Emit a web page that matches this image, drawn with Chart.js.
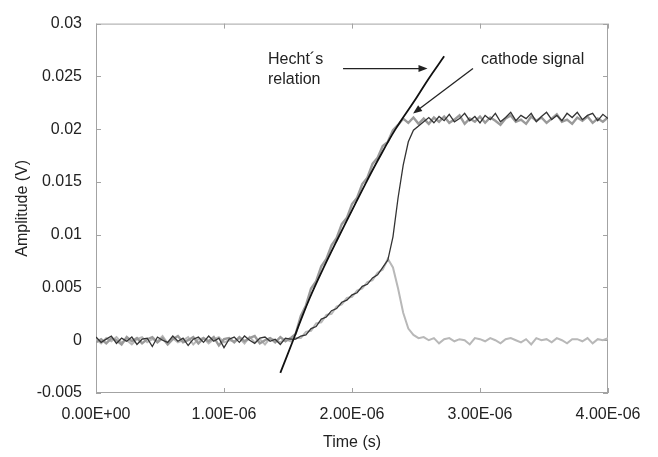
<!DOCTYPE html>
<html lang="en">
<head>
    <meta charset="UTF-8">
    <title>Hecht relation vs signals</title>
    <script src="https://cdn.jsdelivr.net/npm/chart.js"></script>
    <style>
        body {
            margin: 0;
            padding: 0;
            background: #ffffff;
        }
        #chart {
            display: block;
        }
    </style>
</head>
<body>
    <canvas id="chart" width="658" height="457"></canvas>

    <script>
        // sample times (s), shared by the three measured traces
        const time = [
            0.00e-6, 0.04e-6, 0.08e-6, 0.12e-6, 0.16e-6, 0.20e-6, 0.24e-6, 0.28e-6, 0.32e-6, 0.36e-6,
            0.40e-6, 0.44e-6, 0.48e-6, 0.52e-6, 0.56e-6, 0.60e-6, 0.64e-6, 0.68e-6, 0.72e-6, 0.76e-6,
            0.80e-6, 0.84e-6, 0.88e-6, 0.92e-6, 0.96e-6, 1.00e-6, 1.04e-6, 1.08e-6, 1.12e-6, 1.16e-6,
            1.20e-6, 1.24e-6, 1.28e-6, 1.32e-6, 1.36e-6, 1.40e-6, 1.44e-6, 1.48e-6, 1.52e-6, 1.56e-6,
            1.60e-6, 1.64e-6, 1.68e-6, 1.72e-6, 1.76e-6, 1.80e-6, 1.84e-6, 1.88e-6, 1.92e-6, 1.96e-6,
            2.00e-6, 2.04e-6, 2.08e-6, 2.12e-6, 2.16e-6, 2.20e-6, 2.24e-6, 2.28e-6, 2.32e-6, 2.36e-6,
            2.40e-6, 2.44e-6, 2.48e-6, 2.52e-6, 2.56e-6, 2.60e-6, 2.64e-6, 2.68e-6, 2.72e-6, 2.76e-6,
            2.80e-6, 2.84e-6, 2.88e-6, 2.92e-6, 2.96e-6, 3.00e-6, 3.04e-6, 3.08e-6, 3.12e-6, 3.16e-6,
            3.20e-6, 3.24e-6, 3.28e-6, 3.32e-6, 3.36e-6, 3.40e-6, 3.44e-6, 3.48e-6, 3.52e-6, 3.56e-6,
            3.60e-6, 3.64e-6, 3.68e-6, 3.72e-6, 3.76e-6, 3.80e-6, 3.84e-6, 3.88e-6, 3.92e-6, 3.96e-6,
            4.00e-6
        ];

        // trace following Hecht's relation (mid grey)
        const hechtTrace = [
            -0.0002, 0.0001, -0.0003, 0.0002, 0.0000, -0.0004, 0.0003, -0.0001, 0.0002, -0.0003,
            0.0001, 0.0003, -0.0002, 0.0002, -0.0004, 0.0001, 0.0004, -0.0002, 0.0000, 0.0003,
            -0.0003, 0.0002, -0.0001, 0.0003, -0.0005, 0.0001, 0.0002, -0.0002, 0.0003, -0.0001,
            0.0002, 0.0004, -0.0003, 0.0000, 0.0002, -0.0002, 0.0003, -0.0001, 0.0002, 0.0006,
            0.0023, 0.0033, 0.0049, 0.0056, 0.0070, 0.0077, 0.0090, 0.0097, 0.0110, 0.0116,
            0.0129, 0.0135, 0.0148, 0.0154, 0.0167, 0.0173, 0.0184, 0.0188, 0.0199, 0.0204,
            0.0210, 0.0206, 0.0211, 0.0205, 0.0210, 0.0205, 0.0211, 0.0207, 0.0212, 0.0206,
            0.0209, 0.0213, 0.0205, 0.0210, 0.0207, 0.0212, 0.0206, 0.0211, 0.0208, 0.0204,
            0.0210, 0.0213, 0.0207, 0.0209, 0.0205, 0.0212, 0.0208, 0.0211, 0.0206, 0.0210,
            0.0214, 0.0207, 0.0209, 0.0205, 0.0211, 0.0208, 0.0212, 0.0206, 0.0210, 0.0207,
            0.0211
        ];

        // slow ramp then steep rise (dark grey)
        const anodeTrace = [
            0.0003, -0.0002, 0.0001, 0.0004, -0.0003, 0.0002, -0.0001, 0.0003, -0.0004, 0.0001,
            0.0002, -0.0006, 0.0003, 0.0000, -0.0002, 0.0004, -0.0001, 0.0002, -0.0005, 0.0001,
            0.0003, -0.0002, 0.0004, -0.0001, 0.0002, -0.0007, 0.0001, 0.0003, -0.0002, 0.0004,
            0.0000, -0.0003, 0.0002, 0.0003, -0.0001, 0.0001, -0.0004, 0.0002, 0.0001, 0.0001,
            0.0004, 0.0005, 0.0011, 0.0013, 0.0020, 0.0022, 0.0028, 0.0030, 0.0036, 0.0038,
            0.0043, 0.0045, 0.0051, 0.0053, 0.0059, 0.0062, 0.0069, 0.0076, 0.0098, 0.0135,
            0.0166, 0.0188, 0.0199, 0.0203, 0.0207, 0.0211, 0.0206, 0.0212, 0.0208, 0.0214,
            0.0207, 0.0210, 0.0215, 0.0208, 0.0212, 0.0206, 0.0213, 0.0209, 0.0215, 0.0207,
            0.0211, 0.0216, 0.0208, 0.0213, 0.0210, 0.0215, 0.0207, 0.0212, 0.0216, 0.0209,
            0.0213, 0.0208, 0.0215, 0.0211, 0.0216, 0.0209, 0.0213, 0.0215, 0.0208, 0.0214,
            0.0210
        ];

        // slow ramp then drop back to zero (light grey)
        const dropTrace = [
            0.0001, -0.0003, 0.0002, -0.0001, 0.0003, -0.0002, 0.0000, -0.0004, 0.0001, 0.0003,
            -0.0002, 0.0001, -0.0001, 0.0004, -0.0003, 0.0002, -0.0002, 0.0000, 0.0003, -0.0004,
            0.0001, 0.0002, -0.0003, 0.0001, 0.0003, -0.0002, 0.0000, -0.0001, 0.0002, -0.0003,
            0.0003, -0.0002, 0.0001, -0.0004, 0.0002, 0.0000, -0.0002, 0.0001, -0.0001, 0.0002,
            0.0002, 0.0008, 0.0009, 0.0016, 0.0017, 0.0024, 0.0025, 0.0032, 0.0034, 0.0040,
            0.0041, 0.0047, 0.0049, 0.0055, 0.0057, 0.0064, 0.0067, 0.0077, 0.0069, 0.0049,
            0.0026, 0.0011, 0.0005, 0.0002, 0.0003, 0.0000, 0.0002, -0.0003, 0.0001, 0.0002,
            -0.0001, 0.0001, 0.0000, -0.0004, 0.0002, 0.0001, -0.0001, 0.0002, 0.0000, -0.0003,
            0.0001, 0.0002, 0.0000, -0.0002, 0.0001, -0.0004, 0.0002, 0.0000, 0.0001, -0.0002,
            0.0002, 0.0000, -0.0003, 0.0001, 0.0001, -0.0001, 0.0002, -0.0003, 0.0001, 0.0000,
            0.0002
        ];

        // Hecht's relation, smooth black curve
        const hechtTime = [1.44e-6, 1.54e-6, 1.60e-6, 1.67e-6, 1.76e-6, 1.88e-6, 2.00e-6, 2.10e-6, 2.20e-6, 2.34e-6, 2.50e-6, 2.60e-6, 2.72e-6];
        const hechtAmp  = [-0.0031, 0.0000, 0.0019, 0.0040, 0.0064, 0.0094, 0.0123, 0.0147, 0.0170, 0.0200, 0.0229, 0.0248, 0.0269];

        const xTickValues = [0, 1e-6, 2e-6, 3e-6, 4e-6];
        const xTickLabels = ['0.00E+00', '1.00E-06', '2.00E-06', '3.00E-06', '4.00E-06'];
        const yTickValues = [-0.005, 0, 0.005, 0.01, 0.015, 0.02, 0.025, 0.03];
        const yTickLabels = ['-0.005', '0', '0.005', '0.01', '0.015', '0.02', '0.025', '0.03'];

        const FONT = '"Liberation Sans", Arial, sans-serif';
        const INK = '#222222';

        function toPoints(ts, vs) {
            return ts.map((t, i) => ({ x: t, y: vs[i] }));
        }

        function arrow(ctx, x1, y1, x2, y2) {
            const ang = Math.atan2(y2 - y1, x2 - x1);
            const len = 9, half = 3.5;
            ctx.beginPath();
            ctx.moveTo(x1, y1);
            ctx.lineTo(x2 - Math.cos(ang) * len * 0.8, y2 - Math.sin(ang) * len * 0.8);
            ctx.stroke();
            ctx.beginPath();
            ctx.moveTo(x2, y2);
            ctx.lineTo(x2 - Math.cos(ang) * len - Math.sin(ang) * half, y2 - Math.sin(ang) * len + Math.cos(ang) * half);
            ctx.lineTo(x2 - Math.cos(ang) * len + Math.sin(ang) * half, y2 - Math.sin(ang) * len - Math.cos(ang) * half);
            ctx.closePath();
            ctx.fill();
        }

        // box around plot area with small inward tick marks on all four sides
        const framePlugin = {
            id: 'frame',
            beforeDatasetsDraw(chart) {
                const { ctx, chartArea: a, scales: { x, y } } = chart;
                ctx.save();
                ctx.strokeStyle = '#a3a3a3';
                ctx.lineWidth = 1;
                ctx.strokeRect(a.left + 0.5, a.top + 0.5, a.right - a.left - 1, a.bottom - a.top - 1);
                ctx.beginPath();
                xTickValues.forEach(v => {
                    const px = Math.round(x.getPixelForValue(v)) + 0.5;
                    ctx.moveTo(px, a.bottom); ctx.lineTo(px, a.bottom - 5);
                    ctx.moveTo(px, a.top); ctx.lineTo(px, a.top + 5);
                });
                yTickValues.forEach(v => {
                    const py = Math.round(y.getPixelForValue(v)) + 0.5;
                    ctx.moveTo(a.left, py); ctx.lineTo(a.left + 5, py);
                    ctx.moveTo(a.right, py); ctx.lineTo(a.right - 5, py);
                });
                ctx.stroke();
                ctx.restore();
            },
            afterDraw(chart) {
                const { ctx, scales: { x, y } } = chart;
                ctx.save();
                ctx.fillStyle = INK;
                ctx.strokeStyle = INK;
                ctx.lineWidth = 1.3;
                ctx.font = '16px ' + FONT;
                ctx.textBaseline = 'middle';
                ctx.textAlign = 'left';
                ctx.fillText('Hecht´s', x.getPixelForValue(1.344e-6), y.getPixelForValue(0.02657));
                ctx.fillText('relation', x.getPixelForValue(1.344e-6), y.getPixelForValue(0.02472));
                ctx.fillText('cathode signal', x.getPixelForValue(3.008e-6), y.getPixelForValue(0.02657));
                arrow(ctx, x.getPixelForValue(1.93e-6), y.getPixelForValue(0.02574),
                           x.getPixelForValue(2.59e-6), y.getPixelForValue(0.02574));
                arrow(ctx, x.getPixelForValue(2.945e-6), y.getPixelForValue(0.02574),
                           x.getPixelForValue(2.477e-6), y.getPixelForValue(0.02148));
                ctx.restore();
            }
        };

        new Chart(document.getElementById('chart'), {
            type: 'line',
            data: {
                datasets: [
                    { label: "Hecht's relation", data: toPoints(hechtTime, hechtAmp), borderColor: '#111111', borderWidth: 1.8, pointRadius: 0, tension: 0.4 },
                    { label: 'anode', data: toPoints(time, anodeTrace), borderColor: '#333333', borderWidth: 1.3, pointRadius: 0, tension: 0 },
                    { label: 'hecht trace', data: toPoints(time, hechtTrace), borderColor: '#9a9a9a', borderWidth: 2.4, pointRadius: 0, tension: 0 },
                    { label: 'cathode', data: toPoints(time, dropTrace), borderColor: '#b8b8b8', borderWidth: 2, pointRadius: 0, tension: 0 }
                ]
            },
            options: {
                responsive: false,
                animation: false,
                layout: { padding: { left: 0, top: 15, right: 50, bottom: 0 } },
                plugins: {
                    legend: { display: false },
                    tooltip: { enabled: false }
                },
                scales: {
                    x: {
                        type: 'linear',
                        min: 0,
                        max: 4e-6,
                        afterBuildTicks: s => { s.ticks = xTickValues.map(v => ({ value: v })); },
                        afterFit: s => { s.height = 64; },
                        grid: { display: true, drawOnChartArea: false, drawTicks: false },
                        border: { display: false },
                        ticks: {
                            autoSkip: false,
                            maxRotation: 0,
                            padding: 12,
                            color: INK,
                            font: { family: FONT, size: 16 },
                            callback: (v, i) => xTickLabels[i]
                        },
                        title: {
                            display: true,
                            text: 'Time (s)',
                            color: INK,
                            font: { family: FONT, size: 16 },
                            padding: { top: 4, bottom: 5 }
                        }
                    },
                    y: {
                        min: -0.005,
                        max: 0.03,
                        afterBuildTicks: s => { s.ticks = yTickValues.map(v => ({ value: v })); },
                        afterFit: s => { s.width = 96; },
                        grid: { display: true, drawOnChartArea: false, drawTicks: false },
                        border: { display: false },
                        ticks: {
                            autoSkip: false,
                            padding: 14,
                            color: INK,
                            font: { family: FONT, size: 16 },
                            callback: (v, i) => yTickLabels[i]
                        },
                        title: {
                            display: true,
                            text: 'Amplitude (V)',
                            color: INK,
                            font: { family: FONT, size: 16 },
                            padding: { top: 13, bottom: 0 }
                        }
                    }
                }
            },
            plugins: [framePlugin]
        });
    </script>
</body>
</html>
